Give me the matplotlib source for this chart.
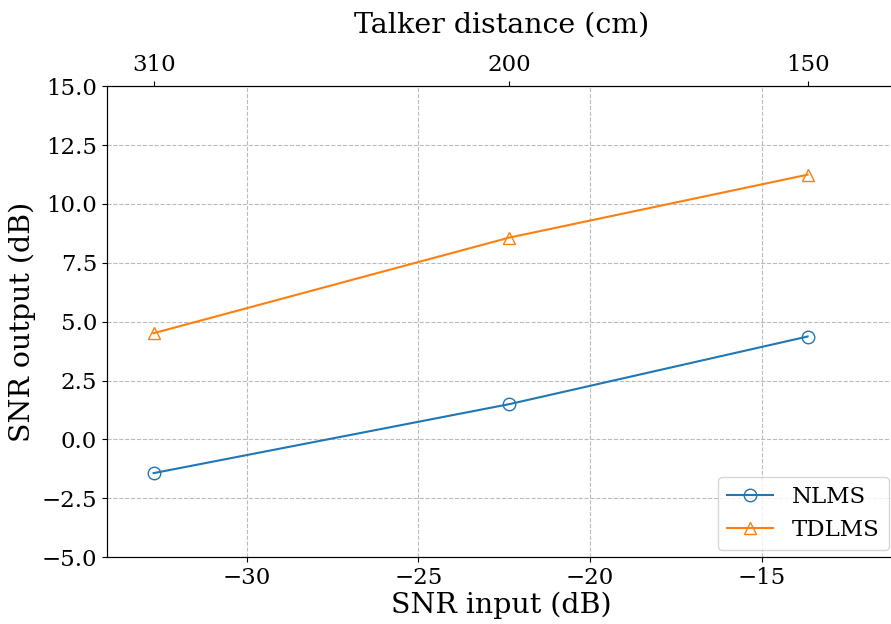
import matplotlib
matplotlib.use("Agg")
import matplotlib.pyplot as plt

snr_in = [-32.72, -22.35, -13.66]
distance_cm = ["310", "200", "150"]
nlms = [-1.43, 1.50, 4.37]
tdlms = [4.51, 8.57, 11.24]

plt.rcParams["font.family"] = "DejaVu Serif"

fig = plt.figure(figsize=(8.91, 6.24), dpi=100)
ax = fig.add_axes([0.120, 0.107, 0.885, 0.755])

ax.plot(snr_in, nlms, marker="o", fillstyle="none", markersize=9, color="tab:blue", label="NLMS")
ax.plot(snr_in, tdlms, marker="^", fillstyle="none", markersize=8, color="tab:orange", label="TDLMS")

ax.set_xlim(-34.08, -11.1)
ax.set_ylim(-5, 15)
ax.set_xticks([-30, -25, -20, -15])
ax.set_yticks([-5, -2.5, 0, 2.5, 5, 7.5, 10, 12.5, 15])
ax.tick_params(labelsize=16.5)
ax.grid(True, linestyle="--", color="#bbbbbb", linewidth=0.8)
ax.spines["right"].set_visible(False)
ax.set_xlabel("SNR input (dB)", fontsize=20.5, labelpad=2)
ax.set_ylabel("SNR output (dB)", fontsize=20.5)
ax.legend(loc="lower right", fontsize=16.5, borderaxespad=0.3)

top = ax.twiny()
top.set_xlim(ax.get_xlim())
top.set_xticks(snr_in)
top.set_xticklabels(distance_cm)
top.tick_params(labelsize=16.5)
top.spines["right"].set_visible(False)
top.set_xlabel("Talker distance (cm)", fontsize=20.5, labelpad=16)

fig.savefig("out.png", dpi=100)
